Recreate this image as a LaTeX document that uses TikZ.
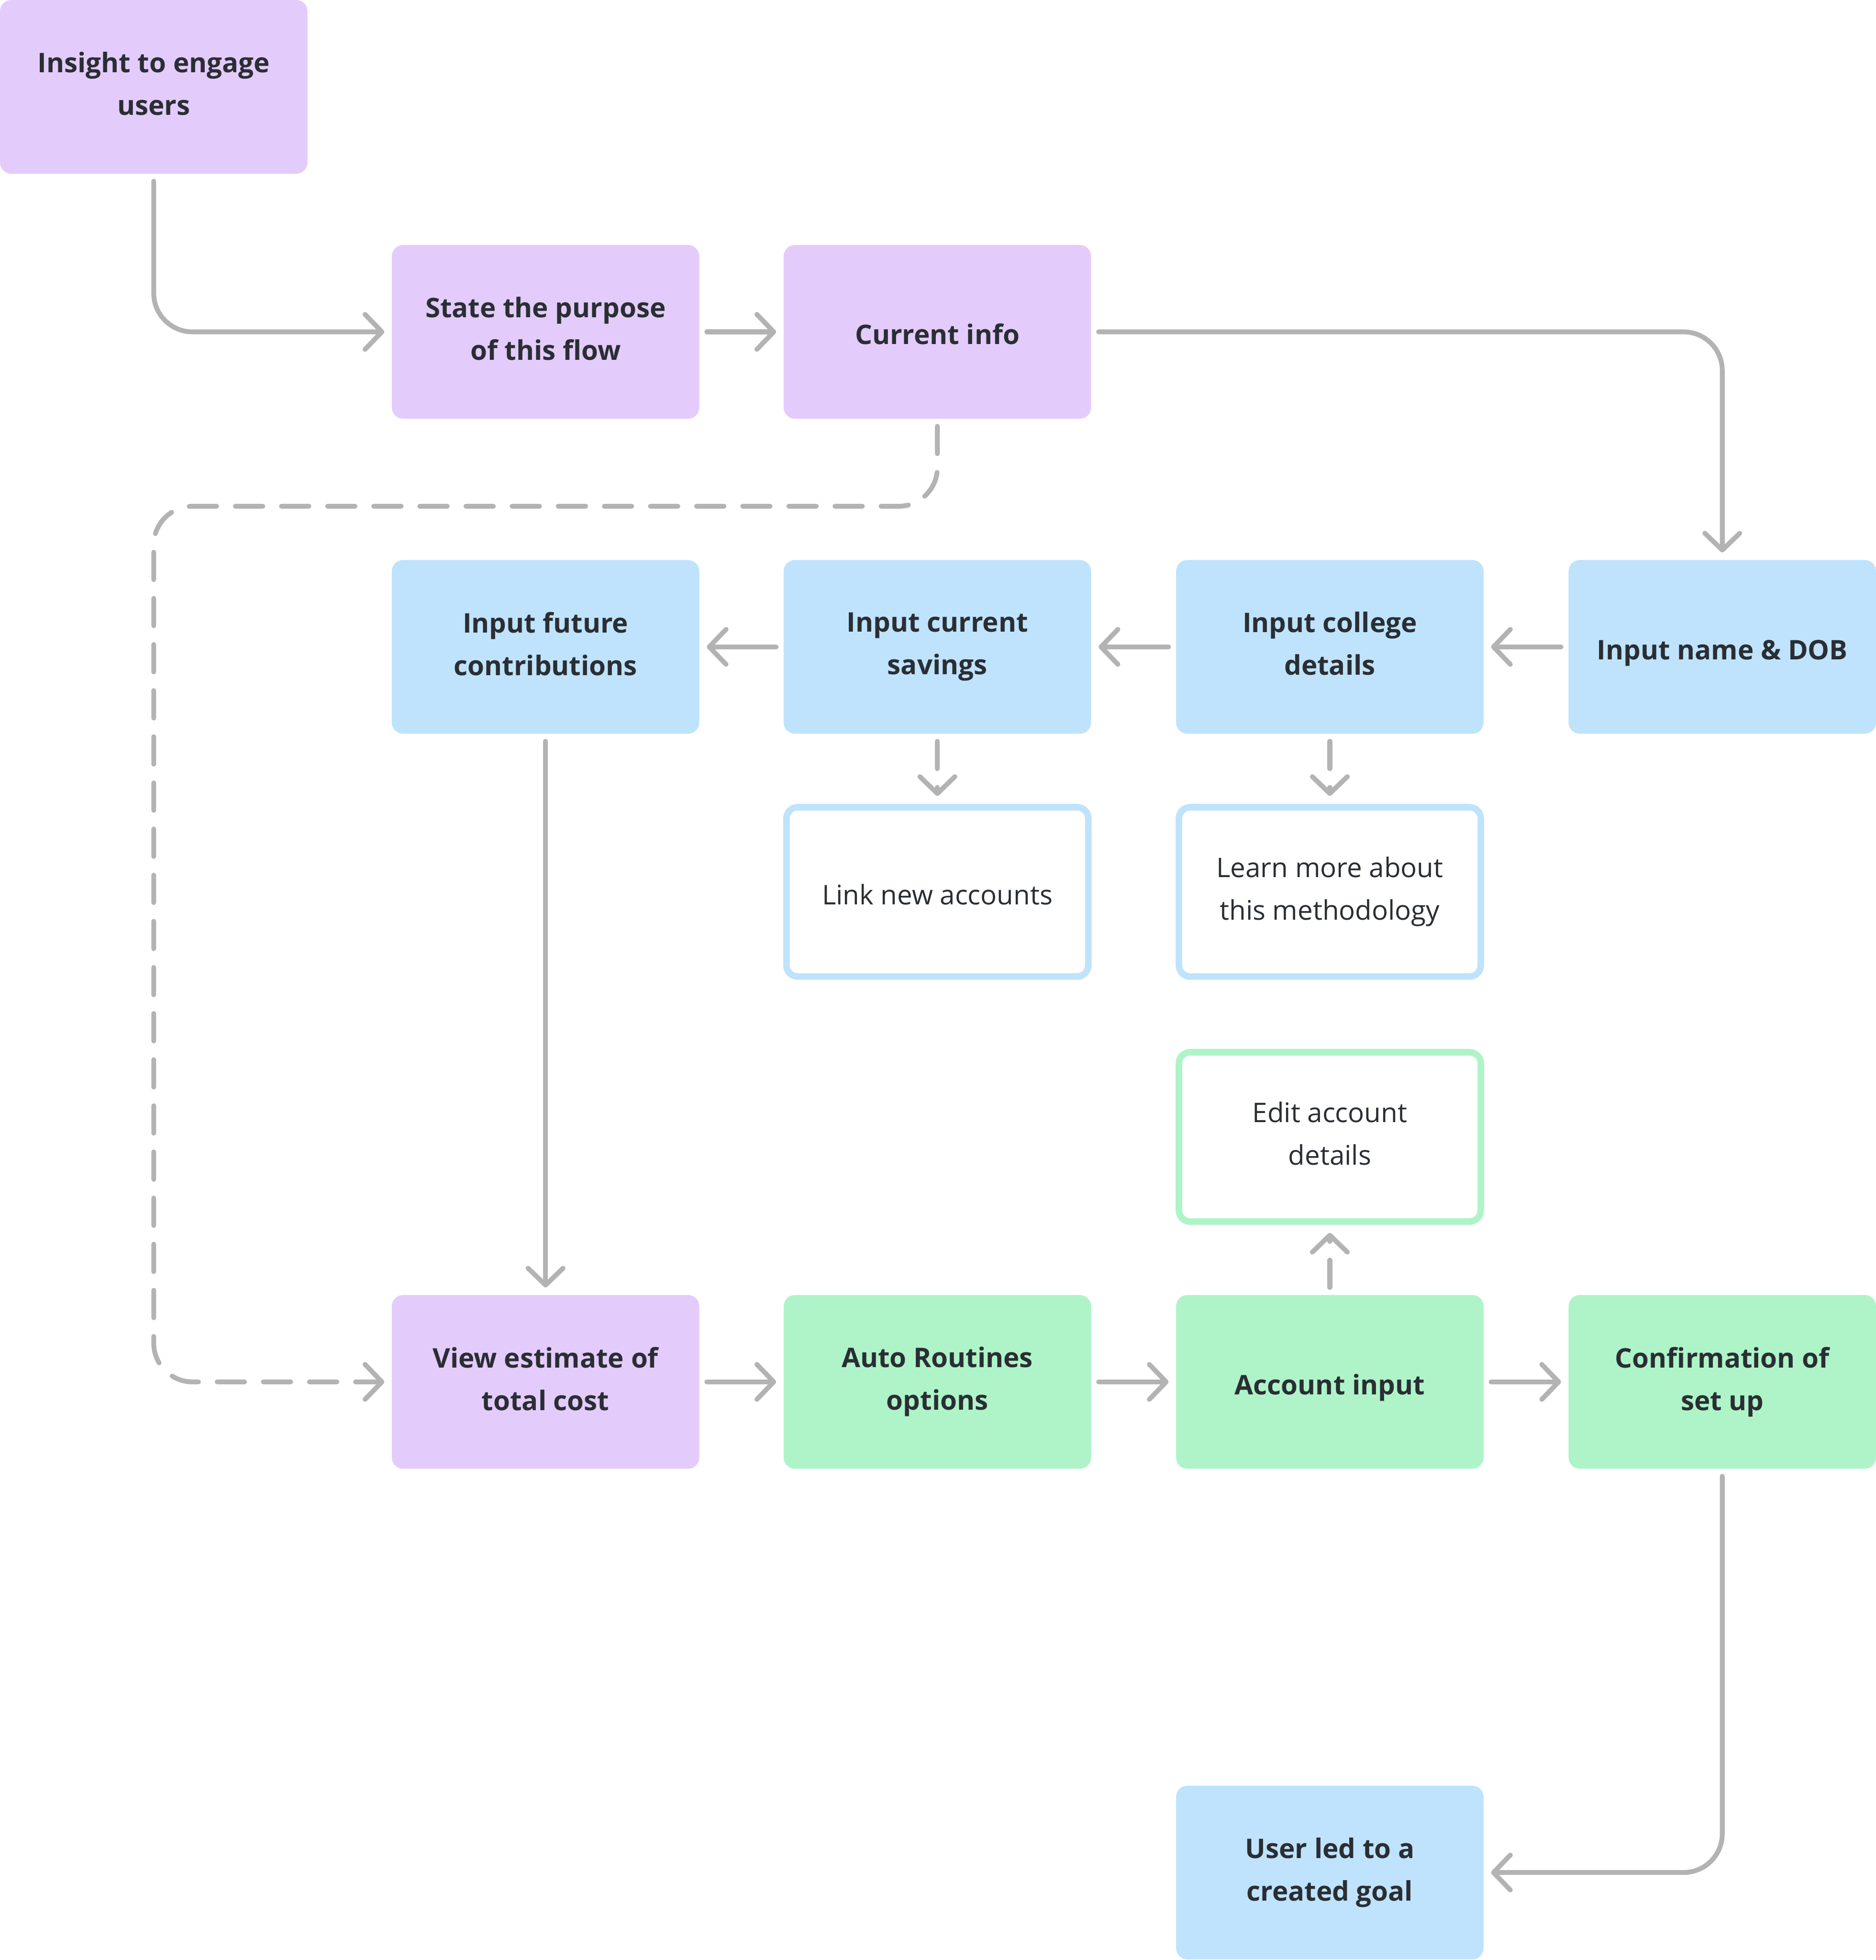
\documentclass[tikz,border=0pt]{standalone}
\usepackage{fontspec}
\setmainfont{Open Sans}
\usepackage{xcolor}
\usetikzlibrary{arrows.meta}
\definecolor{purplefill}{HTML}{E3CCFB}
\definecolor{bluefill}{HTML}{BFE3FC}
\definecolor{greenfill}{HTML}{AEF4C8}
\definecolor{linkgray}{HTML}{B3B3B3}
\definecolor{inkdark}{HTML}{2A2E33}
\def\boxstrut{\rule[-3pt]{0pt}{17.5pt}}
\tikzset{>={Straight Barb[length=0.27cm,width=0.56cm,round]}}
\tikzstyle{flowbox} =
  [ rectangle
  , rounded corners=0.18cm
  , minimum width=4.92cm
  , minimum height=2.78cm
  , align=center
  , text=inkdark
  , outer sep=0.12cm
  , font=\bfseries\fontsize{12.3}{19.4}\selectfont
  , execute at begin node=\boxstrut
  , execute at end node=\boxstrut
  ]
\tikzstyle{purple_step} = [flowbox, fill=purplefill]
\tikzstyle{blue_step}   = [flowbox, fill=bluefill]
\tikzstyle{green_step}  = [flowbox, fill=greenfill]
\tikzstyle{aside} =
  [ flowbox
  , fill=white
  , line width=3pt
  , minimum width=4.83cm
  , minimum height=2.71cm
  , outer sep=0.18cm
  , font=\fontsize{12.3}{19.4}\selectfont
  ]
\tikzstyle{blue_aside}  = [aside, draw=bluefill]
\tikzstyle{green_aside} = [aside, draw=greenfill]
\tikzstyle{link} =
  [ ->
  , draw=linkgray
  , line width=2.2pt
  , line cap=round
  , line join=round
  ]
\tikzstyle{maybe_link} = [link, dash pattern=on 12.5pt off 8.5pt]

\begin{document}
\begin{tikzpicture}
    \useasboundingbox (0,0) rectangle (30.02,-31.36);

    \node[purple_step] (insight)  at (2.46, -1.39)  {Insight to engage\\users};
    \node[purple_step] (purpose)  at (8.73, -5.31)  {State the purpose\\of this flow};
    \node[purple_step] (current)  at (15.0, -5.31)  {Current info};
    \draw[link, rounded corners=0.62cm] (insight) |- (purpose);
    \draw[link] (purpose) -- (current);

    \node[blue_step] (future)  at (8.73, -10.35)  {Input future\\contributions};
    \node[blue_step] (savings) at (15.0, -10.35)  {Input current\\savings};
    \node[blue_step] (college) at (21.28, -10.35) {Input college\\details};
    \node[blue_step] (namedob) at (27.56, -10.35) {Input name \& DOB};
    \draw[link, rounded corners=0.62cm] (current) -| (namedob);
    \draw[link] (namedob) -- (college);
    \draw[link] (college) -- (savings);
    \draw[link] (savings) -- (future);

    \node[blue_aside] (linkacc) at (15.0, -14.27)  {Link new accounts};
    \node[blue_aside] (method)  at (21.28, -14.27) {Learn more about\\this methodology};
    \draw[maybe_link] (savings) -- (linkacc);
    \draw[maybe_link] (college) -- (method);

    \node[green_aside] (editacc) at (21.28, -18.19) {Edit account\\details};

    \node[purple_step] (estimate) at (8.73, -22.11)  {View estimate of\\total cost};
    \node[green_step]  (routines) at (15.0, -22.11)  {Auto Routines\\options};
    \node[green_step]  (accinput) at (21.28, -22.11) {Account input};
    \node[green_step]  (confirm)  at (27.56, -22.11) {Confirmation of\\set up};
    \draw[link] (future) -- (estimate);
    \draw[link] (estimate) -- (routines);
    \draw[link] (routines) -- (accinput);
    \draw[link] (accinput) -- (confirm);
    \draw[maybe_link] (accinput) -- (editacc);

    % skip straight to the estimate
    \coordinate (dashturn) at (2.46, -8.1);
    \draw[maybe_link, rounded corners=0.62cm] (current) |- (dashturn) |- (estimate);

    \node[blue_step] (goal) at (21.28, -29.96) {User led to a\\created goal};
    \draw[link, rounded corners=0.62cm] (confirm) |- (goal);
\end{tikzpicture}
\end{document}
